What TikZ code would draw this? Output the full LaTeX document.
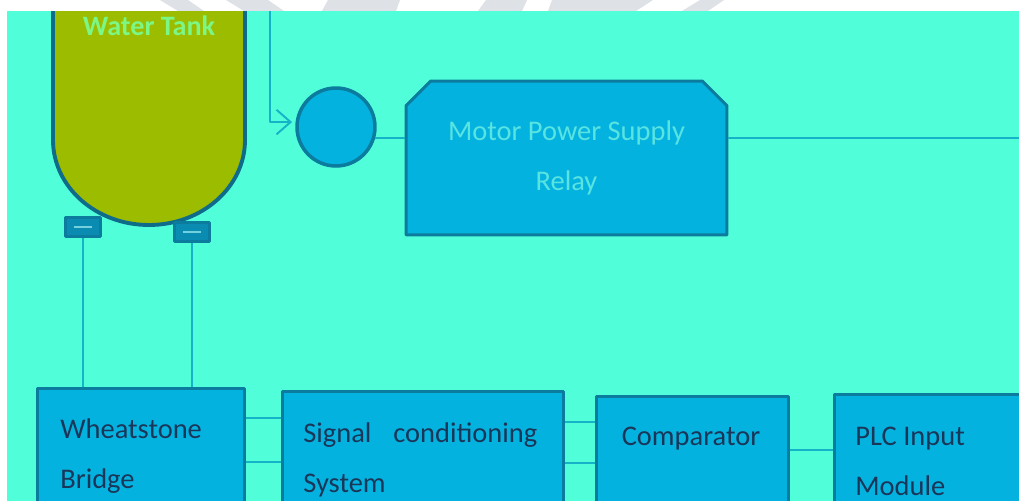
\documentclass[tikz,border=0pt]{standalone}
\usepackage{fontspec}
\setmainfont{Carlito}
\usetikzlibrary{arrows.meta,shapes.misc}

\definecolor{sheet}{RGB}{80,255,218}
\definecolor{boxblue}{RGB}{4,178,224}
\definecolor{rim}{RGB}{12,124,158}
\definecolor{wire}{RGB}{22,178,200}
\definecolor{tankgreen}{RGB}{156,188,0}
\definecolor{tankrim}{RGB}{14,108,138}
\definecolor{ink}{RGB}{26,54,88}
\definecolor{relaytext}{RGB}{88,228,224}
\definecolor{tanktext}{RGB}{124,246,132}
\definecolor{ghost}{RGB}{222,225,230}

\begin{document}
\begin{tikzpicture}[x=0.02cm,y=-0.02cm,line join=round,
    >={Straight Barb[length=8pt,width=14pt]},
    link/.style={draw=wire,line width=1.1pt},
    block/.style={rectangle,draw=rim,fill=boxblue,line width=1.7pt,
      inner sep=0pt,anchor=north west,minimum height=3.2cm},
    foot/.style={rectangle,draw=rim,fill=rim!70!boxblue,line width=1.2pt,
      inner sep=0pt,minimum width=0.7cm,minimum height=0.38cm},
    lbl/.style={text=ink,font=\fontsize{16.2}{28.4}\selectfont,align=left,
      inner sep=0pt,anchor=north west}]
    \useasboundingbox (0,0) rectangle (1019,501);
    \fill[white] (0,0) rectangle (1019,501);

    % The faint watermark strokes in the white band at the top.
    \begin{scope}
      \clip (0,0) rectangle (1019,11);
      \fill[ghost] (160,0) -- (188,0) -- (204,11) -- (178,11) -- cycle;
      \fill[ghost] (226,0) -- (268,0) -- (284,11) -- (244,11) -- cycle;
      \fill[ghost] (328,0) -- (400,0) -- (396,11) -- (322,11) -- cycle;
      \fill[ghost] (486,0) -- (527,0) -- (522,11) -- (478,11) -- cycle;
      \fill[ghost] (552,0) -- (653,0) -- (636,11) -- (548,11) -- cycle;
      \fill[ghost] (700,0) -- (724,0) -- (708,11) -- (682,11) -- cycle;
    \end{scope}

    \begin{scope}
      \clip (7,11) rectangle (1019,501);
      \fill[sheet] (7,11) rectangle (1019,501);

      % The water tank, cut off at the top.
      \draw[draw=tankrim,fill=tankgreen,line width=2.2pt]
        (53,-20) -- (53,140) .. controls (53,187) and (96,225) .. (149,225)
        .. controls (202,225) and (245,187) .. (245,140) -- (245,-20);
      \node[font=\bfseries\fontsize{16}{19}\selectfont,text=tanktext,anchor=base]
        (tanklbl) at (149,35) {Water Tank};
      \node[foot] (footL) at (83,227) {};
      \node[foot] (footR) at (192,232) {};
      \draw[wire!60!white,line width=.6pt] ([xshift=-5pt]footL.center) -- ([xshift=5pt]footL.center);
      \draw[wire!60!white,line width=.6pt] ([xshift=-5pt]footR.center) -- ([xshift=5pt]footR.center);

      % The upper row: level switch and relay.
      \coordinate (feed) at (270,0);
      \node[circle,draw=rim,fill=boxblue,line width=2pt,minimum size=1.56cm,
        inner sep=0pt] (circ) at (336,127) {};
      \node[chamfered rectangle,chamfered rectangle corners={north west,north east},
        chamfered rectangle sep=7pt,draw=rim,fill=boxblue,line width=1.7pt,
        minimum width=6.42cm,minimum height=3.08cm,inner sep=0pt,
        text=relaytext,font=\fontsize{16.2}{28.4}\selectfont,align=center]
        (relay) at (566.5,158) {Motor Power Supply\\Relay};
      \coordinate (exitR) at (1030,138);

      % The lower row of blocks.
      \node[block,minimum width=4.14cm] (wb) at (36,387) {};
      \node[block,minimum width=5.62cm] (sc) at (281,390) {};
      \node[block,minimum width=3.84cm] (comp) at (595,395) {};
      \node[block,minimum width=4.4cm] (plc) at (833,393) {};

      \node[lbl] (wbtxt) at (60,418) {Wheatstone\\Bridge};
      \node[lbl,text width=4.68cm] (sctxt) at (303,422) {Signal\hfill conditioning\\System};
      \node[lbl,anchor=north] (comptxt) at (691,427) {Comparator};
      \node[lbl] (plctxt) at (855,427) {PLC Input\\Module};

      % Connections.
      \draw[link,->,shorten >=2pt] (feed) |- (circ.173);
      \draw[link] (circ.-15) -- (circ.-15 -| relay.west);
      \draw[link] (relay.east |- exitR) -- (exitR);
      \draw[link] (footL.south) -- (footL.south |- wb.north);
      \draw[link] (footR.south) -- (footR.south |- wb.north);
      \foreach \y in {418,462} {\draw[link] (wb.east |- 0,\y) -- (sc.west |- 0,\y);}
      \foreach \y in {422,463} {\draw[link] (sc.east |- 0,\y) -- (comp.west |- 0,\y);}
      \draw[link] (comp.east |- 0,450) -- (plc.west |- 0,450);
    \end{scope}
  \end{tikzpicture}
\end{document}
